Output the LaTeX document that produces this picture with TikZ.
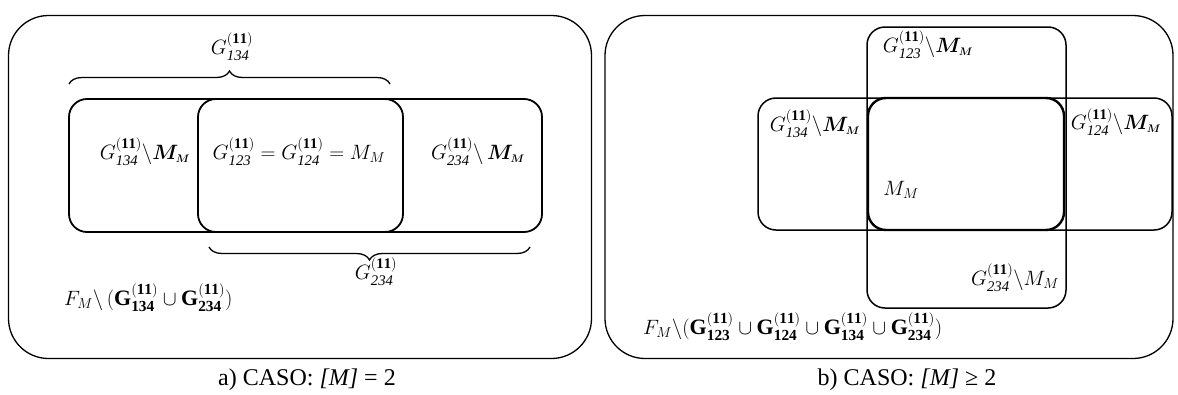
\documentclass[tikz,border=0pt]{standalone}
\usepackage{amsmath}
\usepackage{amssymb}
\usepackage{fontspec}
\setmainfont{Liberation Serif}
\usetikzlibrary{calc, positioning, decorations.pathreplacing}
\newcommand{\Gset}[1]{G^{\mathbf{(11)}}_{\mathit{#1}}}
\newcommand{\Gbold}[1]{\mathbf{G}^{\mathbf{(11)}}_{\mathbf{#1}}}
\newcommand{\MM}{\boldsymbol{M}_{\!\boldsymbol{\scriptscriptstyle M}}}

\begin{document}
\begin{tikzpicture}[x=1pt, y=-1pt,
    outerbox/.style={draw, line width=1.3pt, rounded corners=40pt, inner sep=0pt},
    setbox/.style={draw, line width=1.8pt, rounded corners=18pt, inner sep=0pt},
    lab/.style={font=\fontsize{21}{23}\selectfont, inner sep=1pt},
    caption/.style={font=\fontsize{24}{26}\selectfont},
    curly/.style={decorate, decoration={brace, amplitude=13pt}, line width=1.3pt}]
    \useasboundingbox (0,0) rectangle (1178,394);

    % Draw case a)
    \node[outerbox, minimum width=583pt, minimum height=343pt] (outA) at (300,187) {};
    \node[setbox, minimum width=473pt, minimum height=133pt] (wideA) at (305.5,165.5) {};
    \node[setbox, minimum width=205pt, minimum height=133pt] (midA) at (300.5,165.5) {};

    % Braces over and under the sets
    \coordinate (topL) at (69,84);
    \coordinate (topR) at (390,84);
    \coordinate (botL) at (209,247);
    \coordinate (botR) at (530,247);
    \draw[curly] (topL) -- (topR);
    \draw[curly] (botR) -- (botL);

    \node[lab] (g134) at (232,47) {$\Gset{134}$};
    \node[lab] (g234) at (376,272) {$\Gset{234}$};
    \node[lab] (la1) at (145,152) {$\Gset{134}\backslash\MM$};
    \node[lab] (la2) at (299,152) {$\Gset{123}= \Gset{124}=M_M$};
    \node[lab] (la3) at (478,152) {$\Gset{234}\backslash\,\MM$};
    \node[lab, font=\fontsize{22}{24}\selectfont, anchor=west] (la4) at (63,298) {$F_M\backslash\,(\Gbold{134}\cup\Gbold{234})$};

    \node[caption] (capA) at (307,380) {a) CASO: \textit{[M]} = 2};

    % Draw case b)
    \node[outerbox, minimum width=568pt, minimum height=343pt] (outB) at (889,187) {};
    \node[setbox, line width=1.5pt, minimum width=414pt, minimum height=132pt] (horB) at (965,164) {};
    \node[setbox, line width=1.5pt, minimum width=199pt, minimum height=281pt] (verB) at (966.5,167.5) {};
    \node[setbox, line width=2.4pt, minimum width=196pt, minimum height=132pt] (midB) at (966,164) {};

    \node[lab] (lb1) at (928,45) {$\Gset{123}\backslash\MM$};
    \node[lab] (lb2) at (815,124) {$\Gset{134}\backslash\MM$};
    \node[lab] (lb3) at (1116,122) {$\Gset{124}\backslash\MM$};
    \node[lab] (lb4) at (901,190) {$M_M$};
    \node[lab] (lb5) at (1015,278) {$\Gset{234}\backslash M_M$};
    \node[lab, font=\fontsize{22}{24}\selectfont, anchor=west] (lb6) at (642,327) {$F_M\backslash(\Gbold{123}\cup\Gbold{124}\cup\Gbold{134}\cup\Gbold{234})$};

    \node[caption] (capB) at (907,380) {b) CASO: \textit{[M]} ≥ 2};
\end{tikzpicture}
\end{document}
